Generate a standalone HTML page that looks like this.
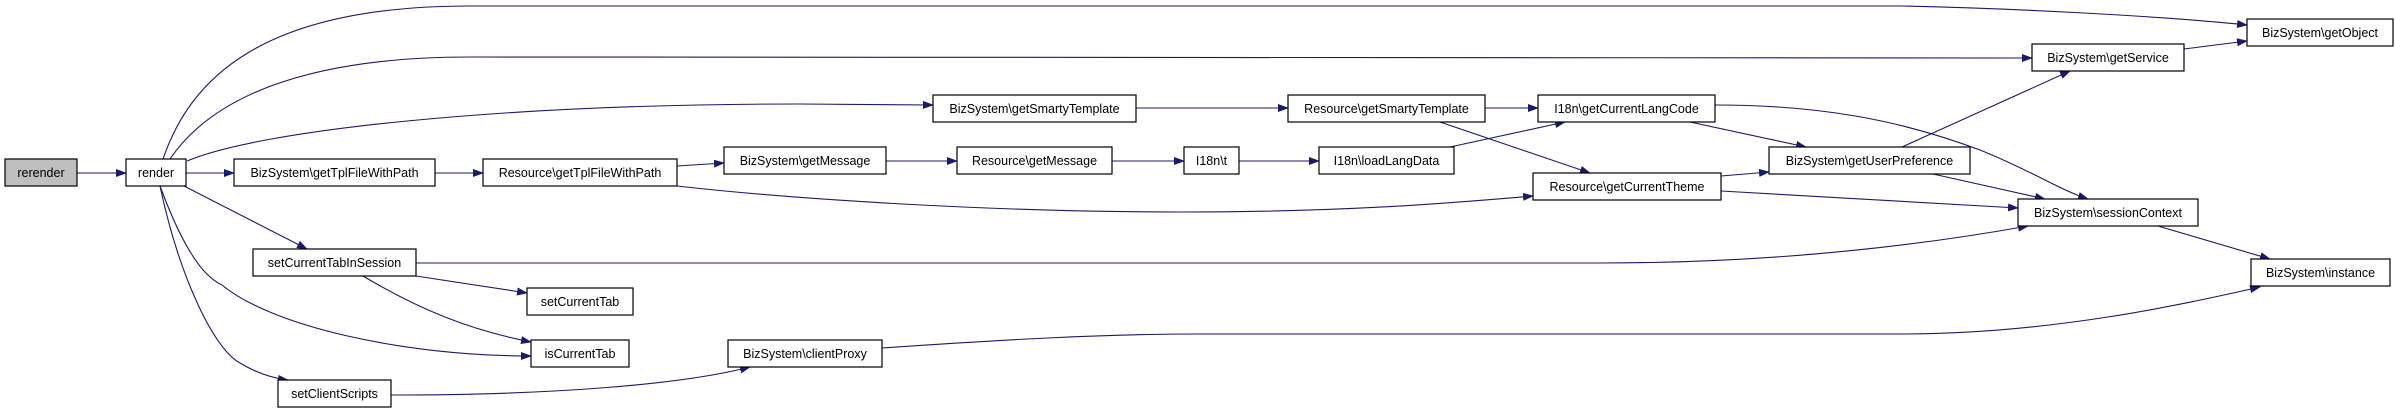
<!DOCTYPE html>
<html><head><meta charset="utf-8"><style>
html,body{margin:0;padding:0;background:#fff;}
svg{display:block;}
text{font-family:"Liberation Sans",sans-serif;font-size:12.5px;fill:#000;}
</style></head><body>
<svg width="2395" height="414" viewBox="0 0 2395 414" xmlns="http://www.w3.org/2000/svg">
<defs>
<marker id="a" markerWidth="11" markerHeight="8" refX="10" refY="4" orient="auto" markerUnits="userSpaceOnUse">
<path d="M0,0 L11,4 L0,8 Z" fill="#191970"/>
</marker>
</defs>
<g fill="none" stroke="#191970" stroke-width="1.1" marker-end="url(#a)">
<path d="M77,173 L126,173"/>
<path d="M163,159 C190,80 260,6 470,6 L1900,6 C2000,8 2150,15 2247,25"/>
<path d="M170,159 C210,100 300,57 470,57 L2032,58"/>
<path d="M187,161 C260,130 500,104 800,104 L933,105"/>
<path d="M186,173 L234,173"/>
<path d="M435,173 L483,173"/>
<path d="M677,166 L724,163"/>
<path d="M677,186 C800,200 1000,212 1180,212 C1350,212 1450,203 1533,196"/>
<path d="M886,161 L957,161"/>
<path d="M1112,161 L1184,161"/>
<path d="M1239,161 L1319,161"/>
<path d="M1450,147 L1565,122"/>
<path d="M1136,108 L1288,108"/>
<path d="M1485,108 L1538,108"/>
<path d="M1440,122 L1590,173"/>
<path d="M1690,122 L1806,147"/>
<path d="M1715,105 C1820,105 1900,120 1980,150 C2030,170 2060,190 2088,199"/>
<path d="M1721,176 L1769,172"/>
<path d="M1721,191 L2018,208"/>
<path d="M1902,147 L2070,71"/>
<path d="M1933,174 L2045,199"/>
<path d="M2184,49 L2247,41"/>
<path d="M416,263 L1600,263 C1800,263 1950,240 2028,226"/>
<path d="M2158,226 L2270,259"/>
<path d="M416,276 L527,293"/>
<path d="M363,276 C420,310 470,330 531,342"/>
<path d="M160,186 C180,240 200,275 222,285 C270,325 400,356 531,356"/>
<path d="M160,186 C180,280 215,350 240,363 C255,372 270,378 288,380"/>
<path d="M184,186 L307,249"/>
<path d="M391,395 C550,395 680,385 750,367"/>
<path d="M882,348 C1000,340 1100,334 1200,334 L1900,334 C2050,334 2180,305 2260,287"/>
</g>
<g stroke="#000" stroke-width="1.2">
<rect x="5" y="159" width="72" height="27" fill="#bfbfbf"/>
<rect x="126" y="159" width="60" height="27" fill="#fff"/>
<rect x="234" y="159" width="201" height="27" fill="#fff"/>
<rect x="483" y="159" width="194" height="27" fill="#fff"/>
<rect x="724" y="147" width="162" height="27" fill="#fff"/>
<rect x="253" y="249" width="163" height="27" fill="#fff"/>
<rect x="527" y="288" width="106" height="27" fill="#fff"/>
<rect x="531" y="340" width="98" height="27" fill="#fff"/>
<rect x="278" y="380" width="113" height="27" fill="#fff"/>
<rect x="728" y="340" width="154" height="27" fill="#fff"/>
<rect x="933" y="95" width="203" height="27" fill="#fff"/>
<rect x="1288" y="95" width="197" height="27" fill="#fff"/>
<rect x="1538" y="95" width="177" height="27" fill="#fff"/>
<rect x="957" y="147" width="155" height="27" fill="#fff"/>
<rect x="1184" y="147" width="55" height="27" fill="#fff"/>
<rect x="1319" y="147" width="135" height="27" fill="#fff"/>
<rect x="1533" y="173" width="188" height="27" fill="#fff"/>
<rect x="2247" y="19" width="146" height="27" fill="#fff"/>
<rect x="2032" y="44" width="152" height="27" fill="#fff"/>
<rect x="1769" y="147" width="201" height="27" fill="#fff"/>
<rect x="2018" y="199" width="180" height="27" fill="#fff"/>
<rect x="2251" y="259" width="139" height="27" fill="#fff"/>
</g>
<g text-anchor="middle">
<text x="41" y="177">rerender</text>
<text x="156" y="177">render</text>
<text x="334.5" y="177">BizSystem\getTplFileWithPath</text>
<text x="580" y="177">Resource\getTplFileWithPath</text>
<text x="805" y="165">BizSystem\getMessage</text>
<text x="334.5" y="267">setCurrentTabInSession</text>
<text x="580" y="306">setCurrentTab</text>
<text x="580" y="358">isCurrentTab</text>
<text x="334.5" y="398">setClientScripts</text>
<text x="805" y="358">BizSystem\clientProxy</text>
<text x="1034.5" y="113">BizSystem\getSmartyTemplate</text>
<text x="1386.5" y="113">Resource\getSmartyTemplate</text>
<text x="1626.5" y="113">I18n\getCurrentLangCode</text>
<text x="1034.5" y="165">Resource\getMessage</text>
<text x="1211.5" y="165">I18n\t</text>
<text x="1386.5" y="165">I18n\loadLangData</text>
<text x="1627" y="191">Resource\getCurrentTheme</text>
<text x="2320" y="37">BizSystem\getObject</text>
<text x="2108" y="62">BizSystem\getService</text>
<text x="1869.5" y="165">BizSystem\getUserPreference</text>
<text x="2108" y="217">BizSystem\sessionContext</text>
<text x="2320.5" y="277">BizSystem\instance</text>
</g>
</svg>
</body></html>
